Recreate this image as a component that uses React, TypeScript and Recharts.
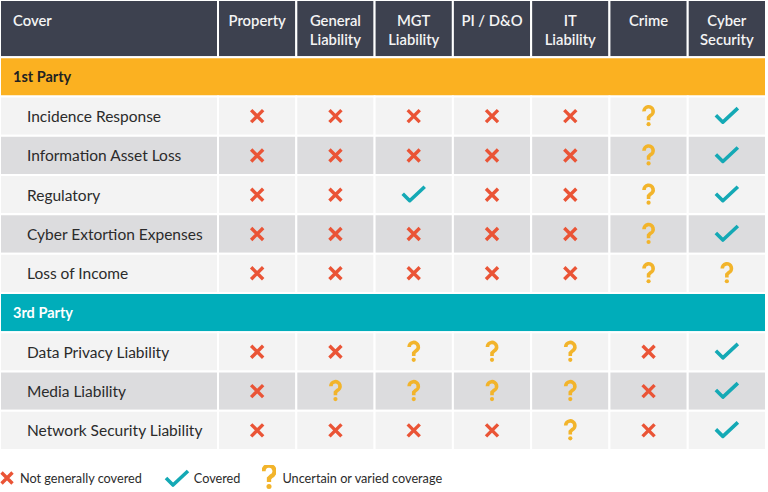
import { ScatterChart, Scatter, XAxis, YAxis, ReferenceArea, Legend } from 'recharts';

type Status = 'no' | 'yes' | 'maybe';

const columnLabels: string[][] = [
  ['Property'],
  ['General', 'Liability'],
  ['MGT', 'Liability'],
  ['PI / D&O'],
  ['IT', 'Liability'],
  ['Crime'],
  ['Cyber', 'Security'],
];

const firstPartyRows = [
  'Incidence Response',
  'Information Asset Loss',
  'Regulatory',
  'Cyber Extortion Expenses',
  'Loss of Income',
];
const firstPartyCover: Status[][] = [
  ['no', 'no', 'no', 'no', 'no', 'maybe', 'yes'],
  ['no', 'no', 'no', 'no', 'no', 'maybe', 'yes'],
  ['no', 'no', 'yes', 'no', 'no', 'maybe', 'yes'],
  ['no', 'no', 'no', 'no', 'no', 'maybe', 'yes'],
  ['no', 'no', 'no', 'no', 'no', 'maybe', 'maybe'],
];

const thirdPartyRows = ['Data Privacy Liability', 'Media Liability', 'Network Security Liability'];
const thirdPartyCover: Status[][] = [
  ['no', 'no', 'maybe', 'maybe', 'maybe', 'no', 'yes'],
  ['no', 'maybe', 'maybe', 'maybe', 'maybe', 'no', 'yes'],
  ['no', 'no', 'no', 'no', 'maybe', 'no', 'yes'],
];

const legendItems: { status: Status; label: string }[] = [
  { status: 'no', label: 'Not generally covered' },
  { status: 'yes', label: 'Covered' },
  { status: 'maybe', label: 'Uncertain or varied coverage' },
];

// table geometry in "cell units": one data column = 1, one row = 1
const COVER_W = 2.785;
const HEADER_H = 1.458;

const HEAD_BG = '#3d414f';
const ORANGE = '#fbb121';
const TEAL = '#00adba';
const LIGHT = '#f3f3f3';
const GREY = '#dcdcde';
const RED = '#ea5436';
const GREEN = '#14a9b5';
const GOLD = '#f2b42b';
const TEXT = '#2b2b2b';

type Row =
  | { kind: 'band'; label: string; fill: string; color: string }
  | { kind: 'item'; label: string; cover: Status[]; fill: string };

const rows: Row[] = [
  { kind: 'band', label: '1st Party', fill: ORANGE, color: '#222' },
  ...firstPartyRows.map((label, i) => ({ kind: 'item' as const, label, cover: firstPartyCover[i], fill: i % 2 ? GREY : LIGHT })),
  { kind: 'band', label: '3rd Party', fill: TEAL, color: '#fff' },
  ...thirdPartyRows.map((label, i) => ({ kind: 'item' as const, label, cover: thirdPartyCover[i], fill: i % 2 ? GREY : LIGHT })),
];

const points: Record<Status, { x: number; y: number }[]> = { no: [], yes: [], maybe: [] };
rows.forEach((r, ri) => {
  if (r.kind !== 'item') return;
  r.cover.forEach((s, ci) => points[s].push({ x: ci + 0.5, y: HEADER_H + ri + 0.5 }));
});

function Cross({ cx, cy, size = 6 }: { cx: number; cy: number; size?: number }) {
  return (
    <path
      d={`M${cx - size},${cy - size}L${cx + size},${cy + size}M${cx + size},${cy - size}L${cx - size},${cy + size}`}
      stroke={RED}
      strokeWidth={3.4}
      fill="none"
    />
  );
}

function Check({ cx, cy }: { cx: number; cy: number }) {
  return (
    <path
      d={`M${cx - 11},${cy - 1}L${cx - 4},${cy + 6}L${cx + 11},${cy - 8}`}
      stroke={GREEN}
      strokeWidth={3.6}
      fill="none"
      strokeLinejoin="round"
    />
  );
}

function Question({ cx, cy, k = 1 }: { cx: number; cy: number; k?: number }) {
  return (
    <g transform={`translate(${cx},${cy}) scale(${k})`}>
      <path d="M-4.6,-4.8A4.6,4.6 0 1 1 1.8,-0.6L0,1.2L0,4.2" stroke={GOLD} strokeWidth={3.6} fill="none" />
      <circle cx={0} cy={8} r={2.1} fill={GOLD} />
    </g>
  );
}

const headerLabel = (lines: string[], left: boolean) => (props: any) => {
  const { x, y, width } = props.viewBox;
  const tx = left ? x + 13 : x + width / 2;
  return (
    <text x={tx} y={y + 20} textAnchor={left ? 'start' : 'middle'} dominantBaseline="central" fill="#f4f4f4" fontSize={14.8} fontWeight={600}>
      {lines.map((l, i) => (
        <tspan key={i} x={tx} dy={i === 0 ? 0 : 19}>
          {l}
        </tspan>
      ))}
    </text>
  );
};

const rowLabel = (label: string, indent: number, color: string, weight: number, size: number) => (props: any) => {
  const { x, y, height } = props.viewBox;
  return (
    <text x={x + indent} y={y + height / 2} dominantBaseline="central" fill={color} fontSize={size} fontWeight={weight}>
      {label}
    </text>
  );
};

function LegendContent() {
  return (
    <div style={{ display: 'flex', alignItems: 'center', height: 42, paddingTop: 14, boxSizing: 'border-box', fontSize: 12.7, color: TEXT }}>
      {legendItems.map((it) => (
        <div key={it.status} style={{ display: 'flex', alignItems: 'center', marginRight: 22 }}>
          <svg width={it.status === 'yes' ? 26 : 14} height={26} style={{ marginRight: it.status === 'yes' ? 4 : 6 }}>
            {it.status === 'no' && <Cross cx={7} cy={13} size={5.5} />}
            {it.status === 'yes' && <Check cx={13} cy={14} />}
            {it.status === 'maybe' && <Question cx={7} cy={12} k={1.2} />}
          </svg>
          <span>{it.label}</span>
        </div>
      ))}
    </div>
  );
}

export default function App() {
  const total = HEADER_H + rows.length;
  return (
    <div style={{ width: 768, height: 492, fontFamily: 'Lato, "Open Sans", sans-serif', background: '#fff' }}>
      <style>{'body{margin:0}'}</style>
      <ScatterChart width={768} height={492} margin={{ top: 0, right: 2, bottom: 0, left: 0 }}>
        <XAxis type="number" dataKey="x" domain={[-COVER_W, 7]} hide allowDataOverflow />
        <YAxis type="number" dataKey="y" domain={[0, total]} reversed hide allowDataOverflow />

        {/* header */}
        <ReferenceArea x1={-COVER_W} x2={0} y1={0} y2={HEADER_H} fill={HEAD_BG} fillOpacity={1} stroke="#fff" strokeWidth={2} label={headerLabel(['Cover'], true)} />
        {columnLabels.map((lines, ci) => (
          <ReferenceArea key={`h${ci}`} x1={ci} x2={ci + 1} y1={0} y2={HEADER_H} fill={HEAD_BG} fillOpacity={1} stroke="#fff" strokeWidth={2} label={headerLabel(lines, false)} />
        ))}

        {/* body rows */}
        {rows.map((r, ri) => {
          const y1 = HEADER_H + ri;
          if (r.kind === 'band') {
            return (
              <ReferenceArea key={`b${ri}`} x1={-COVER_W} x2={7} y1={y1} y2={y1 + 1} fill={r.fill} fillOpacity={1} stroke="#fff" strokeWidth={2} label={rowLabel(r.label, 13, r.color, 700, 14.5)} />
            );
          }
          return [
            <ReferenceArea key={`c${ri}`} x1={-COVER_W} x2={0} y1={y1} y2={y1 + 1} fill={r.fill} fillOpacity={1} stroke="#fff" strokeWidth={2} label={rowLabel(r.label, 27, TEXT, 400, 15.5)} />,
            ...columnLabels.map((_, ci) => (
              <ReferenceArea key={`c${ri}-${ci}`} x1={ci} x2={ci + 1} y1={y1} y2={y1 + 1} fill={r.fill} fillOpacity={1} stroke="#fff" strokeWidth={2} />
            )),
          ];
        })}

        <Scatter data={points.no} isAnimationActive={false} shape={(p: any) => <Cross cx={p.cx} cy={p.cy} />} />
        <Scatter data={points.yes} isAnimationActive={false} shape={(p: any) => <Check cx={p.cx} cy={p.cy} />} />
        <Scatter data={points.maybe} isAnimationActive={false} shape={(p: any) => <Question cx={p.cx} cy={p.cy} />} />

        <Legend verticalAlign="bottom" align="left" content={() => <LegendContent />} wrapperStyle={{ height: 42 }} />
      </ScatterChart>
    </div>
  );
}
